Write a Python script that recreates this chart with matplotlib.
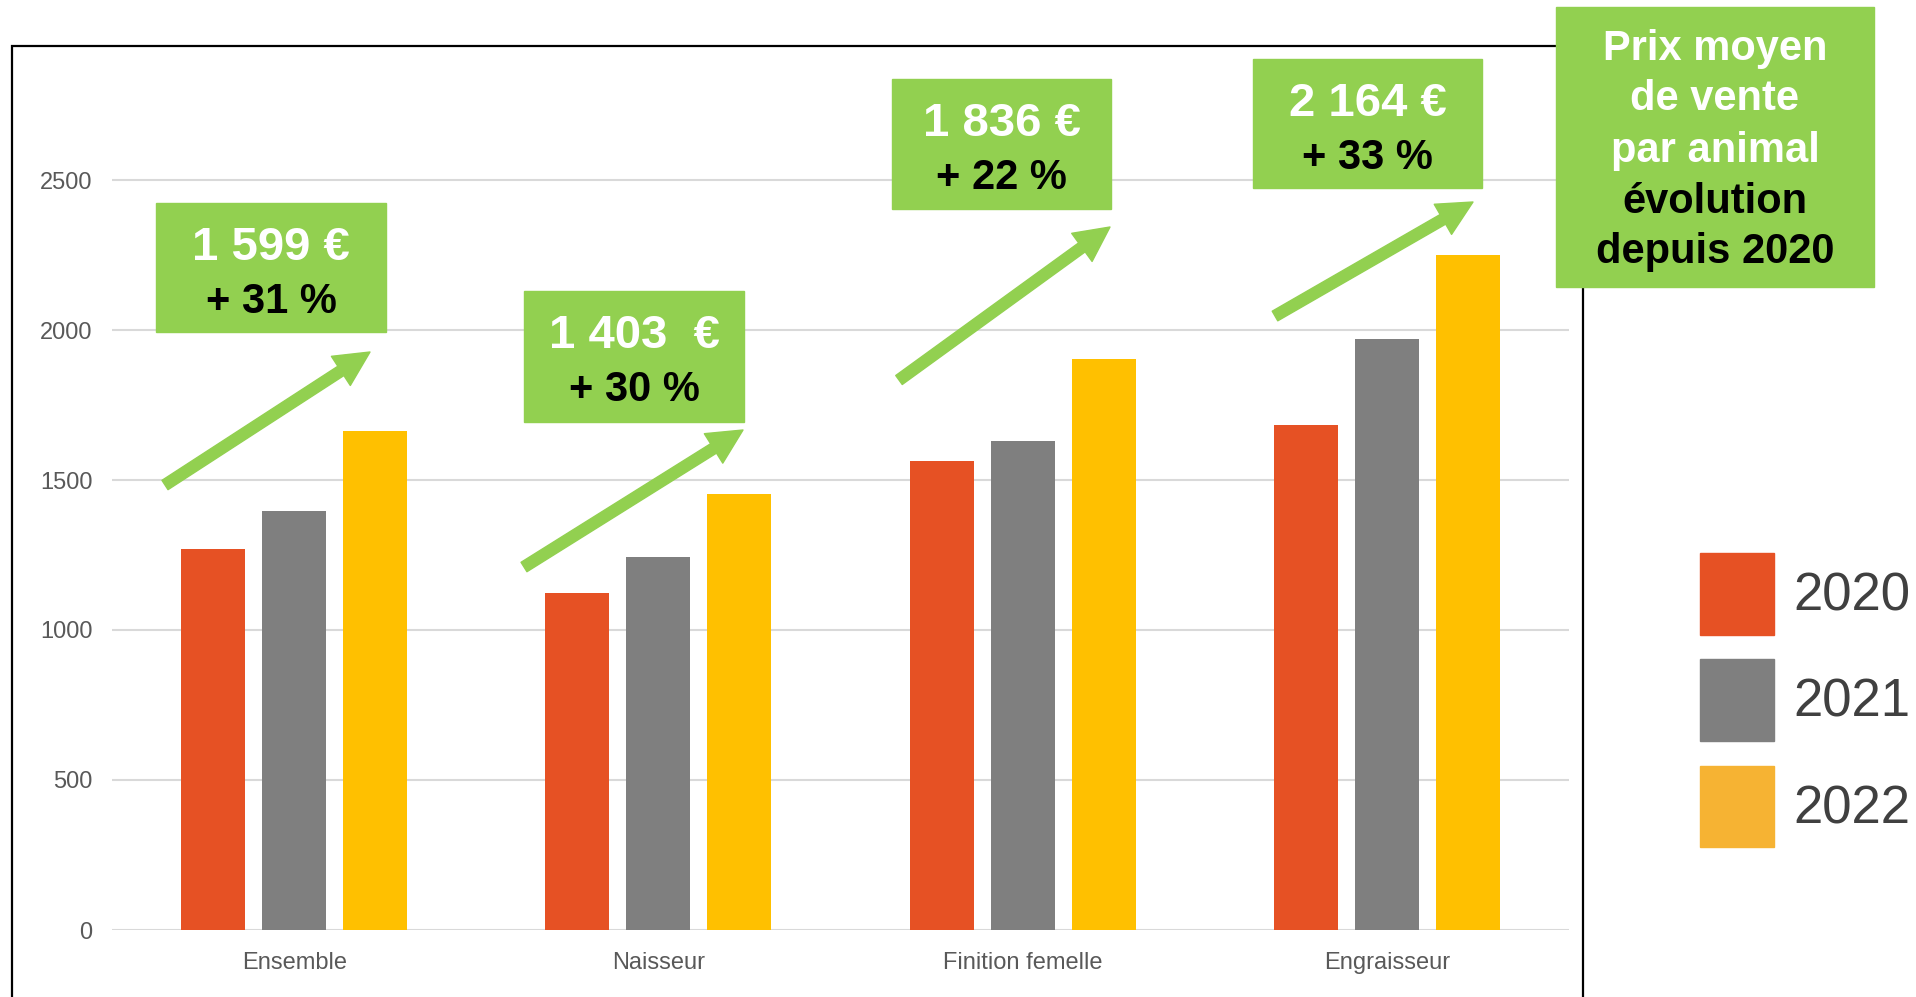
import matplotlib
matplotlib.use("Agg")
import matplotlib.pyplot as plt
import numpy as np
from matplotlib.patches import FancyArrowPatch, Patch, Rectangle

plt.rcParams["font.family"] = ["Liberation Sans", "DejaVu Sans"]

# data
categories = ["Ensemble", "Naisseur", "Finition femelle", "Engraisseur"]
years = ["2020", "2021", "2022"]
prix_2020 = [1270, 1123, 1565, 1683]
prix_2021 = [1396, 1243, 1630, 1970]
prix_2022 = [1662, 1455, 1902, 2250]
yticks = [0, 500, 1000, 1500, 2000, 2500]

box_prix = ["1 599 €", "1 403  €", "1 836 €", "2 164 €"]
box_evol = ["+ 31 %", "+ 30 %", "+ 22 %", "+ 33 %"]
title_white = ["Prix moyen", "de vente", "par animal"]
title_black = ["évolution", "depuis 2020"]

bar_colors = ["#E65124", "#7F7F7F", "#FFC000"]
legend_colors = ["#E65124", "#7F7F7F", "#F6B333"]
green = "#92D050"

W, H = 1916, 997


def fx(px):
    return px / W


def fy(py):
    return 1 - py / H


fig = plt.figure(figsize=(W / 100, H / 100), dpi=100)

# outer chart border
fig.add_artist(Rectangle((fx(12), fy(1010)), fx(1583) - fx(12), fy(46) - fy(1010),
                         transform=fig.transFigure, fill=False, ec="black", lw=1.6, zorder=1))

ax = fig.add_axes([fx(112), fy(930), fx(1569) - fx(112), fy(60) - fy(930)])
ax.patch.set_alpha(0)
x = np.arange(len(categories))
offsets = [-0.2225, 0, 0.2225]
for series, off, col, yr in zip([prix_2020, prix_2021, prix_2022], offsets, bar_colors, years):
    ax.bar(x + off, series, width=0.176, color=col, label=yr, zorder=2)

ax.set_xlim(-0.5, len(categories) - 0.5)
ax.set_ylim(0, 2900)
ax.set_yticks(yticks)
ax.set_xticks(x)
ax.set_xticklabels(categories)
ax.grid(axis="y", color="#D9D9D9", lw=1.5, zorder=0)
ax.set_axisbelow(True)
for s in ax.spines.values():
    s.set_visible(False)
ax.tick_params(axis="y", length=0, pad=14, labelsize=17, labelcolor="#595959")
ax.tick_params(axis="x", length=0, pad=16, labelsize=17, labelcolor="#595959")

# legend
handles = [Patch(color=c) for c in legend_colors]
fig.legend(handles, years, loc="upper left", bbox_to_anchor=(fx(1700), fy(553)),
           bbox_transform=fig.transFigure, frameon=False, fontsize=38,
           labelcolor="#404040", handlelength=1.4, handleheight=2.0,
           handletextpad=0.36, labelspacing=0.47, borderpad=0, borderaxespad=0)

# green value boxes (left, top, right, bottom in pixels)
boxes = [(156, 203, 386, 332), (524, 291, 744, 422), (892, 79, 1111, 209), (1253, 59, 1482, 188)]
for (l, t, r, b), p, e in zip(boxes, box_prix, box_evol):
    fig.add_artist(Rectangle((fx(l), fy(b)), fx(r) - fx(l), fy(t) - fy(b),
                             transform=fig.transFigure, color=green, zorder=3))
    cx = fx((l + r) / 2)
    fig.text(cx, fy(t + 57), p, ha="center", va="baseline", color="white",
             fontsize=34, fontweight="bold", zorder=4)
    fig.text(cx, fy(t + 110), e, ha="center", va="baseline", color="black",
             fontsize=30, fontweight="bold", zorder=4)

# arrows (tail, tip in pixels)
arrows = [((165, 485), (370, 352)), ((524, 567), (743, 430)),
          ((899, 380), (1110, 227)), ((1275, 316), (1473, 202))]
for (x0, y0), (x1, y1) in arrows:
    fig.add_artist(FancyArrowPatch((fx(x0), fy(y0)), (fx(x1), fy(y1)), transform=fig.transFigure,
                                   arrowstyle="simple,head_length=25,head_width=25,tail_width=8",
                                   color=green, shrinkA=0, shrinkB=0, zorder=3))

# title box
fig.add_artist(Rectangle((fx(1556), fy(287)), fx(1874) - fx(1556), fy(7) - fy(287),
                         transform=fig.transFigure, color=green, zorder=3))
baselines = [60, 110, 162, 213, 263]
lines = [(t, "white") for t in title_white] + [(t, "black") for t in title_black]
for (txt, col), yb in zip(lines, baselines):
    fig.text(fx(1715), fy(yb), txt, ha="center", va="baseline", color=col,
             fontsize=30, fontweight="bold", zorder=4)

fig.savefig("out.png", dpi=100)
